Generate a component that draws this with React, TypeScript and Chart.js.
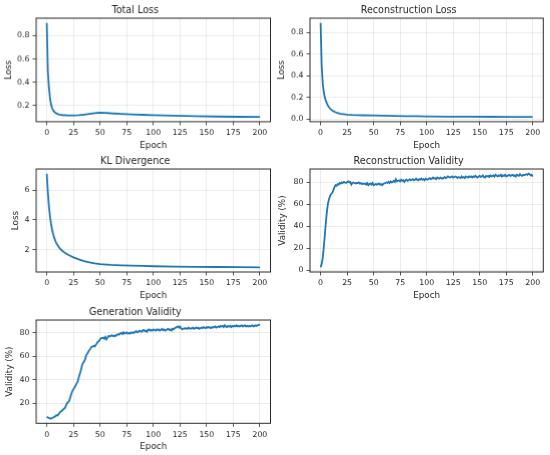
import { useEffect, useRef } from 'react'
import { Chart, registerables } from 'chart.js'

Chart.register(...registerables)

const FONT = "'DejaVu Sans', 'Noto Sans', sans-serif"
const TEXT = '#262626'
const SPINE = '#2b2b2b'
const LINE = '#1f77b4'
const GRID = 'rgba(176, 176, 176, 0.3)'

const EPOCH_TICKS = [0, 25, 50, 75, 100, 125, 150, 175, 200]

const TOTAL_LOSS_EPOCHS = [0, 1, 2, 3, 4, 5, 6, 7, 8, 10, 12, 15, 20, 25, 30, 35, 40, 45, 50, 55, 60, 70, 80, 90, 100, 120, 140, 160, 180, 200]
const TOTAL_LOSS = [0.91, 0.5, 0.36, 0.27, 0.21, 0.18, 0.16, 0.148, 0.14, 0.13, 0.124, 0.12, 0.117, 0.117, 0.119, 0.124, 0.13, 0.136, 0.141, 0.139, 0.135, 0.13, 0.126, 0.122, 0.119, 0.114, 0.11, 0.107, 0.105, 0.103]
const TOTAL_LOSS_TICKS = [0.2, 0.4, 0.6, 0.8]

const RECON_LOSS_EPOCHS = [0, 1, 2, 3, 4, 5, 6, 7, 8, 9, 10, 12, 14, 16, 18, 20, 25, 30, 40, 50, 60, 70, 80, 90, 100, 120, 140, 160, 180, 200]
const RECON_LOSS = [0.89, 0.5, 0.33, 0.25, 0.2, 0.17, 0.145, 0.125, 0.11, 0.098, 0.088, 0.074, 0.064, 0.057, 0.052, 0.048, 0.042, 0.039, 0.036, 0.035, 0.032, 0.03, 0.028, 0.027, 0.026, 0.024, 0.023, 0.022, 0.021, 0.02]
const RECON_LOSS_TICKS = [0.0, 0.2, 0.4, 0.6, 0.8]

const KL_EPOCHS = [0, 1, 2, 3, 4, 5, 6, 7, 8, 9, 10, 12, 14, 16, 18, 20, 25, 30, 35, 40, 45, 50, 60, 70, 80, 90, 100, 120, 140, 160, 180, 200]
const KL_LOSS = [7.1, 5.9, 4.95, 4.25, 3.75, 3.35, 3.05, 2.8, 2.6, 2.45, 2.32, 2.12, 1.97, 1.85, 1.75, 1.67, 1.5, 1.36, 1.25, 1.16, 1.09, 1.04, 0.99, 0.96, 0.94, 0.92, 0.9, 0.88, 0.865, 0.85, 0.84, 0.83]
const KL_TICKS = [2, 4, 6]

// validity curves: one value per epoch, 0..200
const VALIDITY_EPOCHS = Array.from({ length: 201 }, (_, i) => i)
const RECON_VALIDITY = [
  2.5, 5.5, 11, 21, 32, 44, 54, 61, 65, 68, 69.5, 70.5, 73, 75.5, 77.5, 77, 78.5, 78, 79.5, 79, 80,
  79.5, 80.5, 80, 79.5, 80.5, 81, 80, 80.5, 78, 79.5, 80, 79.5, 79, 79.5, 79.5, 80, 79, 79.5, 78.5, 79,
  78.5, 79, 78, 79.5, 77.5, 78.5, 79, 78, 79.5, 77.5, 78, 78.5, 78, 78.5, 79, 78, 78.5, 77.5, 78.5, 79,
  79.5, 80, 79.5, 80.5, 79.5, 81, 80, 80.5, 81.5, 80.5, 83, 81, 81.5, 82, 81, 82.5, 81.5, 82, 80.5, 82,
  82.5, 81.5, 82, 83, 82, 82.5, 83, 82, 82.5, 83.5, 82.5, 82, 83, 82.5, 83.5, 82.5, 83, 82, 83.5, 83,
  82.5, 83.5, 84, 83, 83.5, 84.5, 83.5, 84, 83, 84.5, 84, 83.5, 84.5, 84, 83.5, 84, 85, 84, 84.5, 85.5,
  85, 84.5, 85, 85.5, 84.5, 85, 85.5, 85, 84, 85, 84.5, 84, 85.5, 84.5, 85, 84, 85.5, 85, 84.5, 85.5,
  85, 85.5, 84.5, 85.5, 85, 86, 85, 84.5, 85.5, 86, 85, 85.5, 86.5, 85, 84.5, 86, 85.5, 86, 85, 86.5,
  85.5, 86, 86.5, 85.5, 87, 86, 85.5, 86.5, 86, 87, 85.5, 86.5, 86, 87, 85.5, 86, 86.5, 87, 86, 86.5,
  87, 86, 86.5, 85.5, 87, 86.5, 86, 87.5, 86.5, 86, 87, 86.5, 87, 87.5, 87, 88, 87.5, 86.5, 87, 85.5,
]
const GEN_VALIDITY = [
  8.5, 8, 7.5, 7, 7, 7.5, 8, 8.5, 9, 10, 9.5, 10.5, 12, 13, 13.5, 14.5, 15.5, 16, 18, 20, 21,
  22, 25, 28, 30.5, 32, 33.5, 35, 37, 38.5, 42, 45, 48, 52, 54.5, 55.5, 57.5, 61, 62.5, 64, 65.5,
  66.5, 68, 68.5, 69, 68.5, 70, 71, 72.5, 73, 74.5, 75.5, 75.5, 76, 75, 76.5, 74.5, 76, 77.5, 77, 77.5,
  78, 77.5, 77, 78, 77.5, 78.5, 79, 78.5, 79.5, 80, 79, 80.5, 79.5, 80, 80.5, 79.5, 80, 79.5, 80.5, 80,
  80.5, 80, 81, 81.5, 80.5, 81, 82, 81.5, 81, 82, 82.5, 81.5, 82, 81, 82.5, 83, 82, 82.5, 82, 83,
  82.5, 82, 83, 82.5, 83, 82, 82.5, 83.5, 82.5, 83, 82, 82.5, 83, 83.5, 82.5, 83, 82, 83.5, 83, 84,
  84.5, 85, 85.5, 84.5, 85.5, 84, 83, 83.5, 84, 83.5, 84, 83.5, 84.5, 84, 83.5, 84, 84.5, 83.5, 84, 84.5,
  84, 84.5, 83.5, 84, 84.5, 84, 85, 84.5, 84, 85, 84.5, 85, 84.5, 84, 85, 84.5, 85, 85.5, 84.5, 85,
  85.5, 85, 86, 85.5, 86, 85, 86.5, 85.5, 85, 86, 85.5, 86, 85, 86, 85.5, 86, 85.5, 86.5, 85.5, 86,
  85.5, 86, 86.5, 85.5, 86, 86.5, 85.5, 86, 85.5, 86, 85.5, 86, 86.5, 85.5, 86, 86.5, 86, 86.5, 87, 86.5,
]
const VALIDITY_TICKS = [0, 20, 40, 60, 80]
const GEN_VALIDITY_TICKS = [20, 40, 60, 80]

type PanelDef = {
  title: string
  yLabel: string
  xs: number[]
  ys: number[]
  yTicks: number[]
  decimals: number
  box: [number, number, number, number] // axes frame: left, top, right, bottom
  labelPad: number
}

const PANELS: PanelDef[] = [
  { title: 'Total Loss', yLabel: 'Loss', xs: TOTAL_LOSS_EPOCHS, ys: TOTAL_LOSS, yTicks: TOTAL_LOSS_TICKS, decimals: 1, box: [36, 17.8, 269.5, 120.7], labelPad: 4.1 },
  { title: 'Reconstruction Loss', yLabel: 'Loss', xs: RECON_LOSS_EPOCHS, ys: RECON_LOSS, yTicks: RECON_LOSS_TICKS, decimals: 1, box: [310, 17.8, 543.3, 120.7], labelPad: 3.1 },
  { title: 'KL Divergence', yLabel: 'Loss', xs: KL_EPOCHS, ys: KL_LOSS, yTicks: KL_TICKS, decimals: 0, box: [36, 169.3, 269.5, 272.3], labelPad: 10.8 },
  { title: 'Reconstruction Validity', yLabel: 'Validity (%)', xs: VALIDITY_EPOCHS, ys: RECON_VALIDITY, yTicks: VALIDITY_TICKS, decimals: 0, box: [310, 169.3, 543.3, 272.3], labelPad: 3.5 },
  { title: 'Generation Validity', yLabel: 'Validity (%)', xs: VALIDITY_EPOCHS, ys: GEN_VALIDITY, yTicks: GEN_VALIDITY_TICKS, decimals: 0, box: [36, 320, 269.5, 423.3], labelPad: 4.5 },
]

// space around the axes frame inside each canvas
const LEFT = 36
const TOP = 18
const RIGHT = 6
const BOTTOM = 30

const framePlugin = {
  id: 'frame',
  afterDraw(chart: Chart) {
    const { ctx, chartArea } = chart
    ctx.save()
    ctx.strokeStyle = SPINE
    ctx.lineWidth = 1
    ctx.strokeRect(chartArea.left, chartArea.top, chartArea.right - chartArea.left, chartArea.bottom - chartArea.top)
    ctx.restore()
  },
}

function Panel({ panel }: { panel: PanelDef }) {
  const canvasRef = useRef<HTMLCanvasElement>(null)

  useEffect(() => {
    if (!canvasRef.current) return
    const ctx = canvasRef.current.getContext('2d')
    if (!ctx) return

    // matplotlib-style 5% margins
    const lo = Math.min(...panel.ys)
    const hi = Math.max(...panel.ys)
    const pad = (hi - lo) * 0.05

    const chart = new Chart(ctx, {
      type: 'line',
      data: {
        datasets: [
          {
            data: panel.xs.map((x, i) => ({ x, y: panel.ys[i] })),
            borderColor: LINE,
            borderWidth: 1.8,
            pointRadius: 0,
            tension: 0,
            fill: false,
          },
        ],
      },
      plugins: [framePlugin],
      options: {
        animation: false,
        responsive: true,
        maintainAspectRatio: false,
        layout: { padding: { top: 0, right: RIGHT, bottom: 0, left: 0 } },
        plugins: {
          legend: { display: false },
          tooltip: { enabled: false },
          title: {
            display: true,
            text: panel.title,
            color: TEXT,
            font: { family: FONT, size: 9.6, weight: 'normal' },
            padding: { top: 4.4, bottom: 2.1 },
          },
        },
        scales: {
          x: {
            type: 'linear',
            min: -10,
            max: 210,
            afterBuildTicks: (scale) => {
              scale.ticks = EPOCH_TICKS.map((value) => ({ value }))
            },
            afterFit: (scale) => {
              scale.height = BOTTOM
            },
            border: { display: false },
            grid: { color: GRID, lineWidth: 0.8, tickColor: SPINE, tickLength: 3.5, tickWidth: 0.8 },
            ticks: {
              color: TEXT,
              font: { family: FONT, size: 7.8 },
              padding: 3,
              maxRotation: 0,
              autoSkip: false,
              callback: (v) => String(v),
            },
            title: {
              display: true,
              text: 'Epoch',
              color: TEXT,
              font: { family: FONT, size: 8.8 },
              padding: { top: 0, bottom: 1.4 },
            },
          },
          y: {
            type: 'linear',
            min: lo - pad,
            max: hi + pad,
            afterBuildTicks: (scale) => {
              scale.ticks = panel.yTicks.map((value) => ({ value }))
            },
            afterFit: (scale) => {
              scale.width = LEFT
            },
            border: { display: false },
            grid: { color: GRID, lineWidth: 0.8, tickColor: SPINE, tickLength: 3.5, tickWidth: 0.8 },
            ticks: {
              color: TEXT,
              font: { family: FONT, size: 7.8 },
              padding: 3,
              callback: (v) => Number(v).toFixed(panel.decimals),
            },
            title: {
              display: true,
              text: panel.yLabel,
              color: TEXT,
              font: { family: FONT, size: 8.8 },
              padding: { top: panel.labelPad - 0.2, bottom: 0 },
            },
          },
        },
      },
    })

    return () => {
      chart.destroy()
    }
  }, [panel])

  const [l, t, r, b] = panel.box
  return (
    <div
      style={{
        position: 'absolute',
        left: l - LEFT,
        top: t - TOP,
        width: r - l + LEFT + RIGHT,
        height: b - t + TOP + BOTTOM,
      }}
    >
      <canvas ref={canvasRef} />
    </div>
  )
}

export default function App() {
  useEffect(() => {
    document.body.style.margin = '0'
  }, [])

  return (
    <div style={{ position: 'relative', width: 550, height: 455, background: '#ffffff' }}>
      {PANELS.map((p) => (
        <Panel key={p.title} panel={p} />
      ))}
    </div>
  )
}
